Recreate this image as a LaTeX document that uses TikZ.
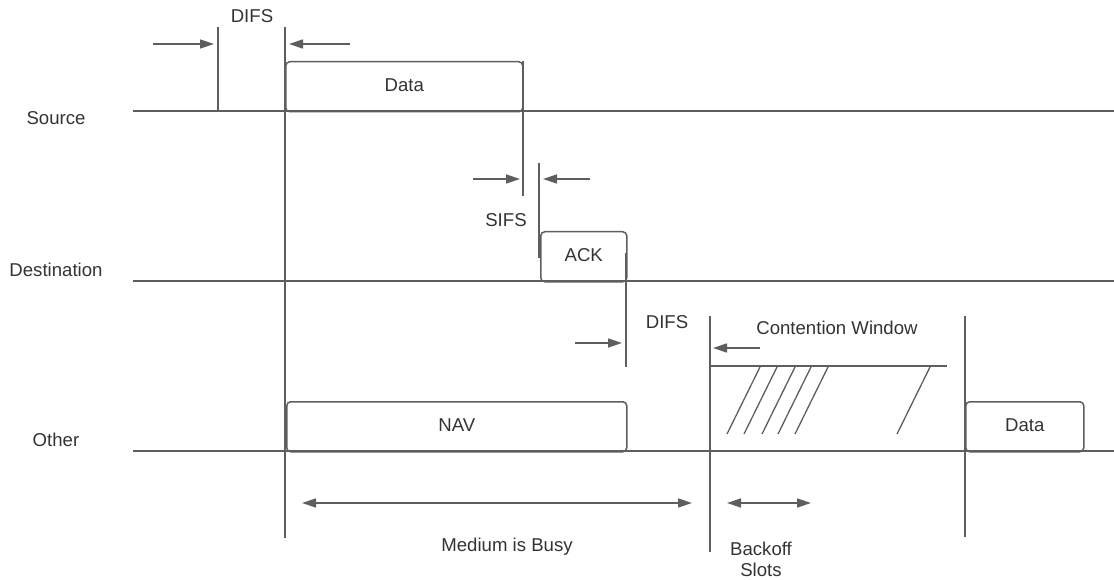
\documentclass[tikz,border=0pt]{standalone}
\usepackage{fontspec}
\setmainfont{Liberation Sans}
\usetikzlibrary{arrows.meta}
\definecolor{ln}{HTML}{5E5E5E}
\definecolor{tx}{HTML}{333333}
\begin{document}
\begin{tikzpicture}[x=1pt,y=-1pt,
  line/.style={draw=ln,line width=1.5pt},
  hatch/.style={draw=ln,line width=1.3pt},
  txt/.style={text=tx,font=\fontsize{18.6}{22}\selectfont,inner sep=0pt,text height=13.4pt,text depth=0pt},
  frame/.style={txt,text depth=3pt,draw=ln,line width=1.5pt,rounded corners=4pt,anchor=north west,minimum height=50pt},
  tip/.style={-{Triangle[length=14pt,width=9pt]}},
  both/.style={{Triangle[length=14pt,width=9pt]}-{Triangle[length=14pt,width=9pt]}},
  ]
\useasboundingbox (0,0) rectangle (1114,580);

% station time lines
\coordinate (srcL) at (133,111);  \coordinate (srcR) at (1114,111);
\coordinate (dstL) at (133,281);  \coordinate (dstR) at (1114,281);
\coordinate (othL) at (133,451);  \coordinate (othR) at (1114,451);
\draw[line] (srcL) -- (srcR);
\draw[line] (dstL) -- (dstR);
\draw[line] (othL) -- (othR);

\node[txt] (lsrc) at (56,118) {Source};
\node[txt] (ldst) at (56,270) {Destination};
\node[txt] (loth) at (56,440) {Other};

% frames
\node[frame,minimum width=237pt] (data1) at (285,61) {Data};
\node[frame,minimum width=86pt] (ack) at (540,231) {ACK};
\node[frame,minimum width=340pt] (nav) at (286,401) {NAV};
\node[frame,minimum width=118pt] (data2) at (965,401) {Data};

% vertical markers
\coordinate (m1t) at (218,27);  \coordinate (m1b) at (218,111);
\coordinate (m2t) at (285,27);  \coordinate (m2b) at (285,538);
\coordinate (m3t) at (523,61);  \coordinate (m3b) at (523,196);
\coordinate (m4t) at (539,163); \coordinate (m4b) at (539,258);
\coordinate (m5t) at (626,253); \coordinate (m5b) at (626,367);
\coordinate (m6t) at (710,316); \coordinate (m6b) at (710,552);
\coordinate (m7t) at (965,316); \coordinate (m7b) at (965,537);
\foreach \m in {m1,m2,m3,m4,m5,m6,m7}
  \draw[line] (\m t) -- (\m b);

% contention window
\coordinate (cwL) at (710,366); \coordinate (cwR) at (947,366);
\draw[line] (cwL) -- (cwR);
\foreach \xt in {760,777,795,811,828,930}
  \draw[hatch] (\xt,367) -- (\xt-33,434);

% interval arrows
\coordinate (a1s) at (153,44);  \coordinate (a1e) at (214,44);
\coordinate (a2s) at (350,44);  \coordinate (a2e) at (289,44);
\coordinate (a3s) at (473,179); \coordinate (a3e) at (520,179);
\coordinate (a4s) at (590,179); \coordinate (a4e) at (543,179);
\coordinate (a5s) at (575,343); \coordinate (a5e) at (622,343);
\coordinate (a6s) at (760,348); \coordinate (a6e) at (713,348);
\foreach \a in {a1,a2,a3,a4,a5,a6}
  \draw[line,tip] (\a s) -- (\a e);

\coordinate (busyL) at (302,503); \coordinate (busyR) at (692,503);
\coordinate (slotL) at (727,503); \coordinate (slotR) at (811,503);
\draw[line,both] (busyL) -- (busyR);
\draw[line,both] (slotL) -- (slotR);

% labels
\node[txt] (difs1) at (252,16) {DIFS};
\node[txt] (sifs) at (506,220) {SIFS};
\node[txt] (difs2) at (667,322) {DIFS};
\node[txt] (cw) at (837,328) {Contention Window};
\node[txt] (busy) at (507,545) {Medium is Busy};
\node[txt] (backoff) at (761,549) {Backoff};
\node[txt] (slots) at (761,570) {Slots};
\end{tikzpicture}
\end{document}
